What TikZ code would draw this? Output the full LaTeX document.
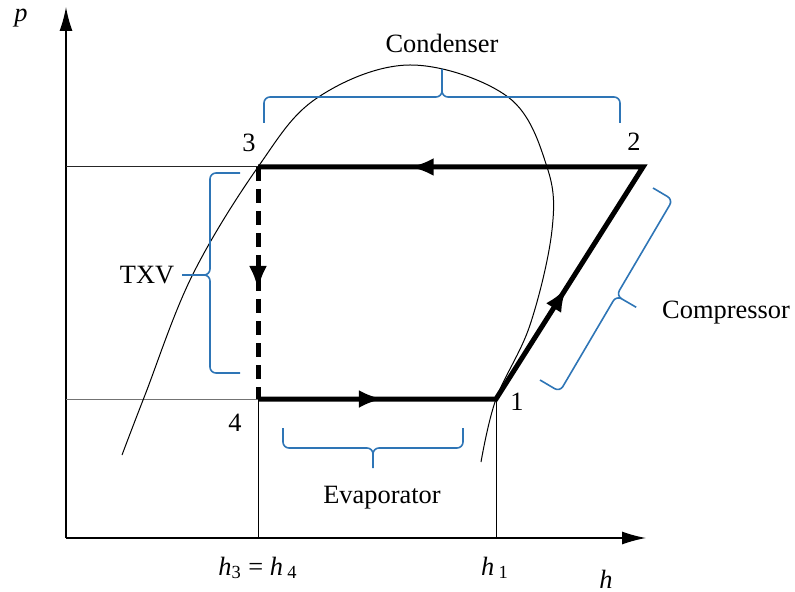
\documentclass[tikz,border=0pt]{standalone}
\usepackage{fontspec}
\setmainfont{Liberation Serif}
\usetikzlibrary{arrows.meta,decorations.markings}
\definecolor{braceblue}{RGB}{46,117,182}
\tikzset{
  flowtip/.tip={Latex[length=12pt,width=9pt]},
  axistip/.tip={Latex[length=12pt,width=6.5pt]},
  cycleline/.style={line width=2.5pt, line join=miter},
  thinline/.style={line width=0.5pt},
  axisline/.style={line width=0.65pt},
  cbrace/.style={draw=braceblue, line width=0.8pt, rounded corners=3pt},
  lbl/.style={anchor=base, inner sep=0pt},
}
\begin{document}
\begin{tikzpicture}[x=0.5pt, y=-0.5pt, font=\fontsize{13.2pt}{16pt}\selectfont]
\useasboundingbox (0,0) rectangle (795,592);
% state points and axes
\coordinate (o) at (66,538);
\coordinate (s1) at (496,399);
\coordinate (s2) at (643,167);
\coordinate (s3) at (258,167);
\coordinate (s4) at (258,399);
\coordinate (ptop) at (66,7);
\coordinate (hend) at (646,538);
\draw[axisline, -axistip] (o) -- (ptop);
\draw[axisline, -axistip] (o) -- (hend);
\draw[thinline, black!85] (66,167) -- (s3);
\draw[thinline, black!55] (66,399) -- (s4);
\draw[thinline] (s4) -- (s4 |- o);
\draw[thinline] (s1) -- (s1 |- o);
% saturation dome
\draw[thinline] plot[smooth, tension=0.6] coordinates {(122,455) (145,395) (192,276) (258,167) (317,98) (410,65) (508,97) (547,167) (552,230) (530,325) (496,399) (481,462)};
% cycle
\draw[cycleline, decoration={markings,
    mark=at position 0.139 with {\arrow{flowtip}},
    mark=at position 0.412 with {\arrow{flowtip}},
    mark=at position 0.831 with {\arrow{flowtip}}}, postaction={decorate}]
  (s4) -- (s1) -- (s2) -- (s3);
\draw[cycleline, dash pattern=on 7pt off 4pt, decoration={markings,
    mark=at position 0.53 with {\arrow{flowtip}}}, postaction={decorate}]
  (s3) -- (s4);
% braces
\draw[cbrace] (264,123) -- (264,97) -- (442,97) -- (442,69) (620,123) -- (620,97) -- (442,97) -- (442,69);
\draw[cbrace] (240,173) -- (210,173) -- (210,275) -- (182,275) (240,373) -- (210,373) -- (210,275) -- (182,275);
\draw[cbrace] (283,428) -- (283,448) -- (373,448) -- (373,468) (463,428) -- (463,448) -- (373,448) -- (373,468);
\draw[cbrace] (653,188) -- (672.8,199.7) -- (616.3,295.7) -- (636.2,307.3) (540,380) -- (559.8,391.7) -- (616.3,295.7) -- (636.2,307.3);
% labels
\node[lbl] (lp) at (21,22) {\textit{p}};
\node[lbl] (lh) at (606,588) {\textit{h}};
\node[lbl] (lh34) at (258,575) {\textit{h}\textsubscript{3} = \textit{h}\,\textsubscript{4}};
\node[lbl] (lh1) at (495,575) {\textit{h}\,\textsubscript{1}};
\node[lbl] (l1) at (517,410) {1};
\node[lbl] (l2) at (634,151) {2};
\node[lbl] (l3) at (249,152) {3};
\node[lbl] (l4) at (235,431) {4};
\node[lbl] (lcond) at (442,53) {Condenser};
\node[lbl] (lcomp) at (726,318) {Compressor};
\node[lbl] (levap) at (382,503) {Evaporator};
\node[lbl] (ltxv) at (147,284) {TXV};
\end{tikzpicture}
\end{document}
